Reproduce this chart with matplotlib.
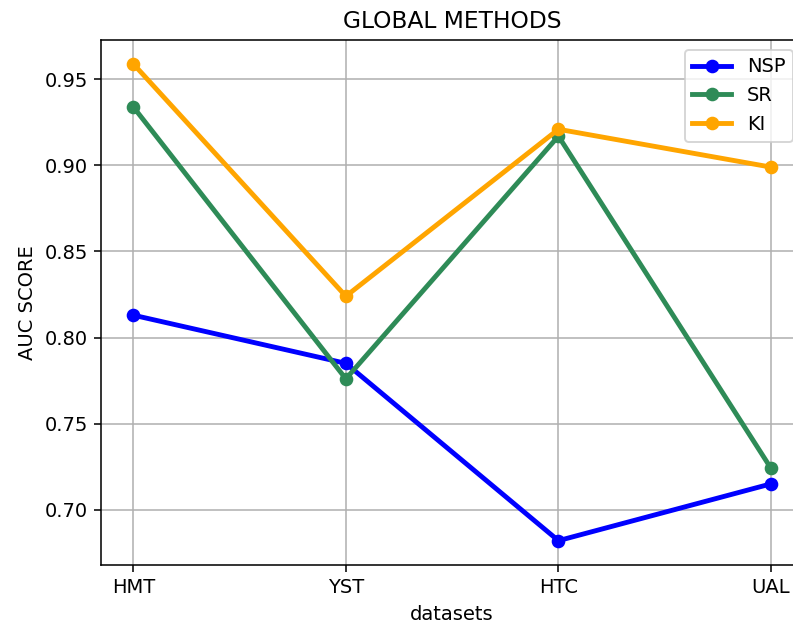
import matplotlib
matplotlib.use("Agg")
import matplotlib.pyplot as plt

# data
datasets = ["HMT", "YST", "HTC", "UAL"]
nsp = [0.813, 0.785, 0.682, 0.715]
sr = [0.934, 0.776, 0.917, 0.724]
ki = [0.959, 0.824, 0.921, 0.899]

DPI = 140
fig = plt.figure(figsize=(793 / DPI, 622 / DPI), dpi=DPI)
# the original is cropped on the right, so the axes run a bit past the edge
ax = fig.add_axes([101.4 / 793, 1 - 564.5 / 622, 701.5 / 793, 524.5 / 622])

ax.plot(datasets, nsp, marker="o", color="blue", linewidth=2.5, label="NSP")
ax.plot(datasets, sr, marker="o", color="seagreen", linewidth=2.5, label="SR")
ax.plot(datasets, ki, marker="o", color="orange", linewidth=2.5, label="KI")

ax.set_title("GLOBAL METHODS")
ax.set_xlabel("datasets")
ax.set_ylabel("AUC SCORE")
ax.grid(True)
ax.legend(loc="upper right")

fig.savefig("out.png", dpi=DPI)
